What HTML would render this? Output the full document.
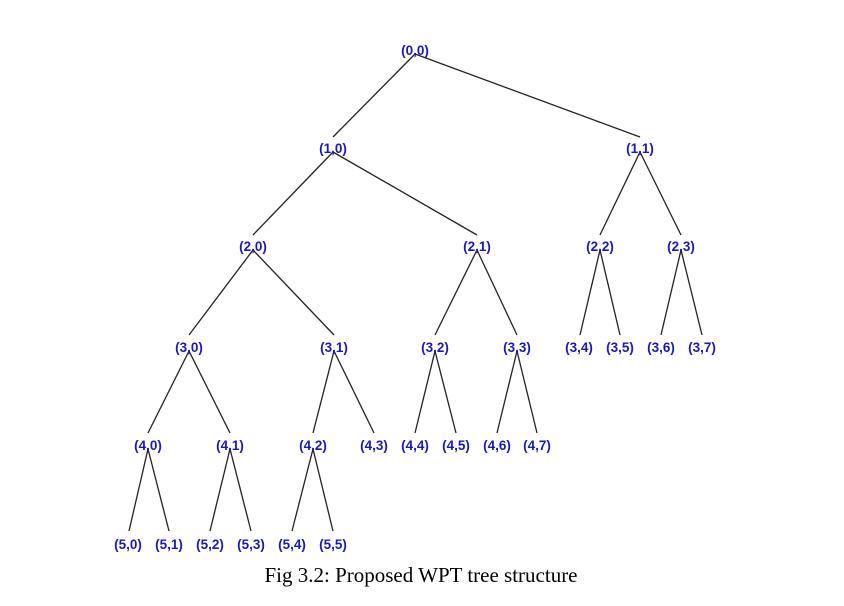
<!DOCTYPE html>
<html><head><meta charset="utf-8"><style>
html,body{margin:0;padding:0;background:#fff;}
svg{display:block}
.n{font-family:"Liberation Sans",sans-serif;font-weight:bold;font-size:13.5px;fill:#1a1ab0;text-anchor:middle}
.c{font-family:"Liberation Serif",serif;font-size:21px;fill:#000;text-anchor:middle}
line{stroke:#222;stroke-width:1.3}
</style></head><body>
<svg width="844" height="606" viewBox="0 0 844 606" xmlns="http://www.w3.org/2000/svg">
<line x1="415" y1="54" x2="333" y2="137"/>
<line x1="415" y1="54" x2="640" y2="137"/>
<line x1="333" y1="152" x2="253" y2="235"/>
<line x1="333" y1="152" x2="477" y2="235"/>
<line x1="640" y1="152" x2="600" y2="235"/>
<line x1="640" y1="152" x2="681" y2="235"/>
<line x1="253" y1="250" x2="189" y2="335"/>
<line x1="253" y1="250" x2="334" y2="335"/>
<line x1="477" y1="250" x2="435" y2="335"/>
<line x1="477" y1="250" x2="517" y2="335"/>
<line x1="600" y1="250" x2="580" y2="335"/>
<line x1="600" y1="250" x2="620" y2="335"/>
<line x1="681" y1="250" x2="661" y2="335"/>
<line x1="681" y1="250" x2="702" y2="335"/>
<line x1="189" y1="351" x2="148" y2="433"/>
<line x1="189" y1="351" x2="230" y2="433"/>
<line x1="334" y1="351" x2="313" y2="433"/>
<line x1="334" y1="351" x2="374" y2="433"/>
<line x1="435" y1="351" x2="415" y2="433"/>
<line x1="435" y1="351" x2="456" y2="433"/>
<line x1="517" y1="351" x2="497" y2="433"/>
<line x1="517" y1="351" x2="537" y2="433"/>
<line x1="148" y1="449" x2="129" y2="531"/>
<line x1="148" y1="449" x2="169" y2="531"/>
<line x1="230" y1="449" x2="210" y2="531"/>
<line x1="230" y1="449" x2="251" y2="531"/>
<line x1="313" y1="449" x2="292" y2="531"/>
<line x1="313" y1="449" x2="333" y2="531"/>
<text class="n" x="415" y="55">(0,0)</text>
<text class="n" x="333" y="153">(1,0)</text>
<text class="n" x="640" y="153">(1,1)</text>
<text class="n" x="253" y="251">(2,0)</text>
<text class="n" x="477" y="251">(2,1)</text>
<text class="n" x="600" y="251">(2,2)</text>
<text class="n" x="681" y="251">(2,3)</text>
<text class="n" x="189" y="352">(3,0)</text>
<text class="n" x="334" y="352">(3,1)</text>
<text class="n" x="435" y="352">(3,2)</text>
<text class="n" x="517" y="352">(3,3)</text>
<text class="n" x="579" y="352">(3,4)</text>
<text class="n" x="620" y="352">(3,5)</text>
<text class="n" x="661" y="352">(3,6)</text>
<text class="n" x="702" y="352">(3,7)</text>
<text class="n" x="148" y="450">(4,0)</text>
<text class="n" x="230" y="450">(4,1)</text>
<text class="n" x="313" y="450">(4,2)</text>
<text class="n" x="374" y="450">(4,3)</text>
<text class="n" x="415" y="450">(4,4)</text>
<text class="n" x="456" y="450">(4,5)</text>
<text class="n" x="497" y="450">(4,6)</text>
<text class="n" x="537" y="450">(4,7)</text>
<text class="n" x="128" y="549">(5,0)</text>
<text class="n" x="169" y="549">(5,1)</text>
<text class="n" x="210" y="549">(5,2)</text>
<text class="n" x="251" y="549">(5,3)</text>
<text class="n" x="292" y="549">(5,4)</text>
<text class="n" x="333" y="549">(5,5)</text>
<text class="c" x="421" y="582">Fig 3.2: Proposed WPT tree structure</text>
</svg>
</body></html>
